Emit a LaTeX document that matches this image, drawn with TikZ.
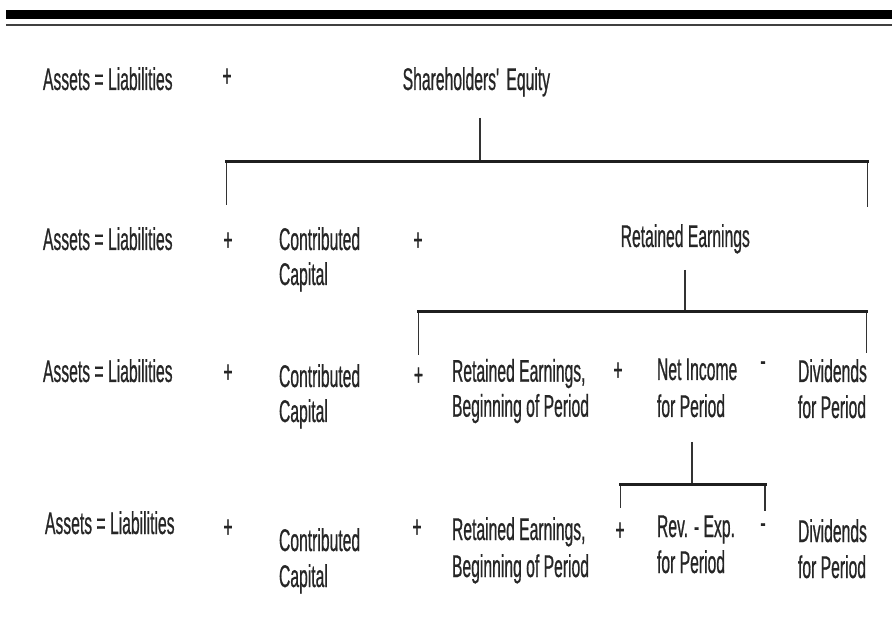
\documentclass[tikz,border=0pt]{standalone}
\usepackage{fontspec}
\setmainfont[FakeStretch=0.5,FakeBold=0.6]{Liberation Sans}
\newcommand\lblfont{\fontsize{31.4}{35}\selectfont}
\begin{document}
\begin{tikzpicture}[x=1pt,y=-1pt,
  lbl/.style={inner sep=0pt, outer sep=0pt, anchor=base west, font=\lblfont, text=black!85},
  sgn/.style={inner sep=0pt, outer sep=0pt, anchor=base, font=\lblfont, text=black!85},
  stem/.style={draw=black!80, line width=1.3pt},
  bar/.style={draw=black!88, line width=3pt, line cap=rect}]
\useasboundingbox (0,0) rectangle (892,617);
% top rules
\fill[black] (6,10) rectangle (892,19);
\draw[black!75, line width=1.7pt] (6,25) -- (892,25);

% row 1
\node[lbl] (a1) at (43,90) {Assets = Liabilities};
\node[sgn] (p11) at (227,86.5) {+};
\node[lbl] (se) at (402.7,90) {Shareholders\textquotesingle{} Equity};

% row 2
\node[lbl] (a2) at (43,250) {Assets = Liabilities};
\node[sgn] (p21) at (228,250.5) {+};
\node[lbl] (cc2a) at (279,250) {Contributed};
\node[lbl] (cc2b) at (279,285) {Capital};
\node[sgn] (p22) at (418,250.5) {+};
\node[lbl] (re2) at (620.7,247) {Retained Earnings};

% row 3
\node[lbl] (a3) at (43,382) {Assets = Liabilities};
\node[sgn] (p31) at (228,382.5) {+};
\node[lbl] (cc3a) at (279,387) {Contributed};
\node[lbl] (cc3b) at (279,422) {Capital};
\node[sgn] (p32) at (418.5,385.5) {+};
\node[lbl] (reb3a) at (452,381.7) {Retained Earnings,};
\node[lbl] (reb3b) at (452,416.7) {Beginning of Period};
\node[sgn] (p33) at (618,380.5) {+};
\node[lbl] (ni3a) at (657,380) {Net Income};
\node[lbl] (ni3b) at (657,417) {for Period};
\node[sgn] (m3) at (763,371) {-};
\node[lbl] (dv3a) at (798,382) {Dividends};
\node[lbl] (dv3b) at (798,418) {for Period};

% row 4
\node[lbl] (a4) at (45,534) {Assets = Liabilities};
\node[sgn] (p41) at (228,537.5) {+};
\node[lbl] (cc4a) at (279,551) {Contributed};
\node[lbl] (cc4b) at (279,587) {Capital};
\node[sgn] (p42) at (417,537.5) {+};
\node[lbl] (reb4a) at (452,540) {Retained Earnings,};
\node[lbl] (reb4b) at (452,577) {Beginning of Period};
\node[sgn] (p43) at (620,540.5) {+};
\node[lbl] (rv4a) at (657,537) {Rev. - Exp.};
\node[lbl] (rv4b) at (657,573) {for Period};
\node[sgn] (m4) at (763,533) {-};
\node[lbl] (dv4a) at (798,542) {Dividends};
\node[lbl] (dv4b) at (798,578) {for Period};

% bracket 1
\coordinate (b1t) at (480,118);
\coordinate (b1m) at (480,162);
\coordinate (b1l) at (226.7,162);
\coordinate (b1r) at (867.7,162);
\coordinate (b1le) at (226.7,205);
\coordinate (b1re) at (867.7,207);
\draw[stem] (b1t) -- (b1m);
\draw[stem] (b1l) -- (b1le);
\draw[stem] (b1r) -- (b1re);
\draw[bar] (b1l) -- (b1r);

% bracket 2
\coordinate (b2t) at (685,270);
\coordinate (b2m) at (685,312);
\coordinate (b2l) at (418.3,312);
\coordinate (b2r) at (866.5,312);
\coordinate (b2le) at (418.3,355);
\coordinate (b2re) at (866.5,353);
\draw[stem] (b2t) -- (b2m);
\draw[stem] (b2l) -- (b2le);
\draw[stem] (b2r) -- (b2re);
\draw[bar] (b2l) -- (b2r);

% bracket 3
\coordinate (b3t) at (692,442);
\coordinate (b3m) at (692,485);
\coordinate (b3l) at (620.7,485);
\coordinate (b3r) at (765,485);
\coordinate (b3le) at (620.7,508);
\coordinate (b3re) at (765,511);
\draw[stem] (b3t) -- (b3m);
\draw[stem] (b3l) -- (b3le);
\draw[stem] (b3r) -- (b3re);
\draw[bar] (b3l) -- (b3r);
\end{tikzpicture}
\end{document}
